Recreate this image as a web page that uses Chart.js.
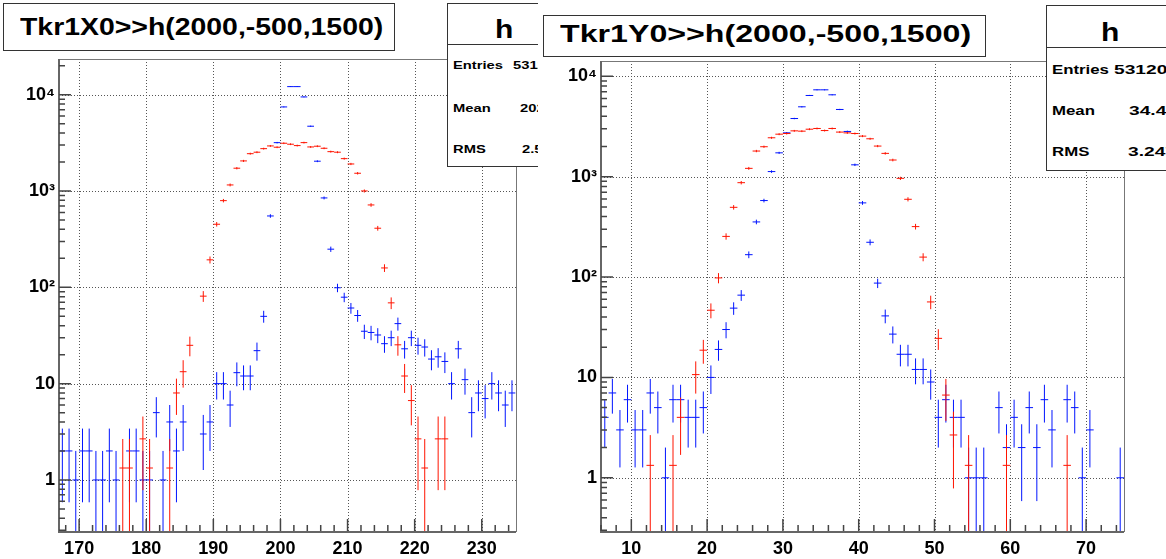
<!DOCTYPE html>
<html>
<head>
<meta charset="utf-8">
<script src="https://cdn.jsdelivr.net/npm/chart.js@4/dist/chart.umd.min.js"></script>
<style>
  html, body { margin: 0; padding: 0; background: #fff; }
  body { width: 1166px; height: 559px; position: relative; overflow: hidden; font-family: "Liberation Sans", Arial, sans-serif; }
  .pane { position: absolute; top: 0; height: 559px; overflow: hidden; background: #fff; }
  canvas { position: absolute; top: 0; }
  .box { position: absolute; box-sizing: border-box; border: 1px solid #333; background: #fff; }
  .txt { position: absolute; white-space: nowrap; font-weight: bold; color: #000; transform-origin: 0 50%; line-height: 1; }
  .sep { position: absolute; left: 0; right: 0; height: 0; border-top: 1px solid #333; }
</style>
</head>
<body>
<div class="pane" id="paneL" style="left:0;width:538px;">
  <canvas id="cL" width="540" height="559" style="left:0;width:540px;height:559px;"></canvas>
  <div class="box" style="left:3px;top:3px;width:392px;height:48px;">
    <span class="txt" id="titleL" style="left:16px;top:12px;font-size:23px;transform:scaleX(1.235);"></span>
  </div>
  <div class="box" id="statL" style="left:447px;top:3px;width:112px;height:164px;"></div>
</div>
<div class="pane" id="paneR" style="left:538px;width:628px;">
  <canvas id="cR" width="626" height="559" style="left:2px;width:626px;height:559px;"></canvas>
  <div class="box" style="left:5px;top:15px;width:443px;height:42px;">
    <span class="txt" id="titleR" style="left:16px;top:6px;font-size:24px;transform:scaleX(1.34);"></span>
  </div>
  <div class="box" id="statR" style="left:508px;top:5px;width:130px;height:166px;"></div>
</div>
<script>
// ---------------- data ----------------
const titleX0 = "Tkr1X0>>h(2000,-500,1500)";
const titleY0 = "Tkr1Y0>>h(2000,-500,1500)";
const statLabels = ["Entries", "Mean", "RMS"];
const statX0 = ["53120", "202.5", "2.558"];
const statY0 = ["53120", "34.41", "3.247"];

const yTickValues = [1, 10, 100, 1000, 10000];
const yTickLabels = ["1", "10", "10\u00B2", "10\u00B3", "10\u2074"];
const xTicksX0 = [170, 180, 190, 200, 210, 220, 230];
const xTicksY0 = [10, 20, 30, 40, 50, 60, 70];

// Tkr1X0 : blue histogram (bin centres, contents)
const x0BlueBins = [167.5,168.5,169.5,170.5,171.5,172.5,173.5,174.5,175.5,177.5,178.5,179.5,180.5,181.5,182.5,183.5,184.5,185.5,
  188.5,189.5,190.5,191.5,192.5,193.5,194.5,195.5,196.5,197.5,198.5,199.5,200.5,201.5,202.5,203.5,204.5,205.5,206.5,207.5,
  208.5,209.5,210.5,211.5,212.5,213.5,214.5,215.5,216.5,217.5,218.5,219.5,220.5,221.5,222.5,223.5,224.5,225.5,226.5,227.5,
  228.5,229.5,230.5,231.5,232.5,233.5,234.5];
const x0BlueVals = [2,2,1,2,2,1,1,2,1,2,2,1,1,5,1,4,2,4,
  3,4,10,10,6,13,12,12,22,50,551,3180,7470,12140,12140,9490,4710,2040,848,249,
  99,79,61,51,35,34,32,26,30,42,23,30,25,24,18,19,17,10,23,11,
  5,8,7,10,8,6,8];
// Tkr1X0 : red histogram (weighted, 4/3 per entry)
const x0RedBins = [176.5,177.5,179.5,180.5,183.5,184.5,185.5,186.5,188.5,189.5,190.5,191.5,192.5,193.5,194.5,195.5,196.5,
  197.5,198.5,199.5,200.5,201.5,202.5,203.5,204.5,205.5,206.5,207.5,208.5,209.5,210.5,211.5,212.5,213.5,214.5,215.5,216.5,
  217.5,218.5,219.5,220.5,221.5,223.5,224.5];
const x0RedVals = [1.33,1.33,2.67,1.33,1.33,8,13.3,25,81,193,452,795,1157,1726,2055,2443,2530,
  2755,2940,2850,3135,3063,2965,3183,2870,2920,2780,2565,2530,2170,1910,1530,1002,717,411,159,69,
  25.3,12,6.67,2.67,1.33,2.67,2.67];

// Tkr1Y0 : blue histogram
const y0BlueBins = [6.5,7.5,8.5,9.5,10.5,11.5,12.5,13.5,14.5,15.5,16.5,17.5,18.5,19.5,20.5,21.5,22.5,23.5,24.5,25.5,26.5,
  27.5,28.5,29.5,30.5,31.5,32.5,33.5,34.5,35.5,36.5,37.5,38.5,39.5,40.5,41.5,42.5,43.5,44.5,45.5,46.5,47.5,48.5,49.5,
  50.5,51.5,52.5,53.5,54.5,55.5,56.5,58.5,59.5,60.5,61.5,62.5,63.5,64.5,65.5,67.5,68.5,69.5,70.5,74.5];
const y0BlueVals = [4,7,3,6,3,3,7,5,1,6,6,4,4,5,10,19,30,49,66,167,354,
  578,1124,1727,2733,3795,4966,6440,7330,7330,6540,4670,2820,1312,548,222,87,41,27,17,17,12,12,9,
  4,6,4,4,1,1,1,5,2,4,2,5,2,6,3,6,5,1,3,1];
// Tkr1Y0 : red histogram (weighted, 4/3 per entry)
const y0RedBins = [12.5,15.5,16.5,18.5,19.5,20.5,21.5,22.5,23.5,24.5,25.5,26.5,27.5,28.5,29.5,30.5,31.5,32.5,33.5,34.5,
  35.5,36.5,37.5,38.5,39.5,40.5,41.5,42.5,43.5,44.5,45.5,46.5,47.5,48.5,49.5,50.5,51.5,52.5,54.5,59.5,67.5];
const y0RedVals = [1.33,1.33,4,10.67,18.67,46.7,98,254,495,871,1210,1800,1987,2440,2650,2690,2860,2840,2970,3020,
  2880,3020,2780,2730,2690,2535,2385,2017,1706,1465,962,595,318,158,56.5,24.5,6.67,2.67,1.33,1.33,1.33];

const blueWeight = 1;
const redWeight = 4 / 3;

// ---------------- helpers ----------------
function errorBarData(bins, vals, w) {
  const pts = [];
  bins.forEach((xc, i) => {
    const v = vals[i];
    if (!(v > 0)) return;
    const e = Math.sqrt(v * w);
    pts.push({x: xc - 0.5, y: v}, {x: xc + 0.5, y: v}, {x: xc + 0.5, y: null});
    pts.push({x: xc, y: Math.max(v - e, 1e-3)}, {x: xc, y: v + e}, {x: xc, y: null});
  });
  return pts;
}

const rootAxes = {
  id: 'rootAxes',
  beforeDatasetsDraw(chart, args, o) {
    const {ctx, chartArea: a, scales: {x, y}} = chart;
    ctx.save();
    ctx.strokeStyle = '#555';
    ctx.lineWidth = 1;
    ctx.setLineDash([1, 2]);
    ctx.beginPath();
    o.xMajor.forEach(v => {
      const px = Math.round(x.getPixelForValue(v)) + 0.5;
      ctx.moveTo(px, a.top); ctx.lineTo(px, a.bottom);
    });
    yTickValues.forEach(v => {
      const py = Math.round(y.getPixelForValue(v)) + 0.5;
      ctx.moveTo(a.left, py); ctx.lineTo(a.right, py);
    });
    ctx.stroke();
    ctx.restore();
  },
  afterDatasetsDraw(chart, args, o) {
    const {ctx, chartArea: a, scales: {x, y}} = chart;
    ctx.save();
    ctx.strokeStyle = '#777';
    ctx.lineWidth = 1;
    ctx.strokeRect(a.left + 0.5, a.top + 0.5, a.right - a.left, a.bottom - a.top);
    ctx.strokeStyle = '#666';
    ctx.lineWidth = 2;
    ctx.beginPath();
    ctx.moveTo(a.left, a.top); ctx.lineTo(a.left, a.bottom + 1); ctx.lineTo(a.right, a.bottom + 1);
    ctx.stroke();
    ctx.strokeStyle = '#444';
    ctx.lineWidth = 1.5;
    ctx.beginPath();
    for (let v = Math.ceil(x.min / 2) * 2; v <= x.max; v += 2) {
      const px = x.getPixelForValue(v);
      const len = (v % 10 === 0) ? 12 : 6;
      ctx.moveTo(px, a.bottom); ctx.lineTo(px, a.bottom - len);
    }
    for (let d = 0.1; d <= 100000; d *= 10) {
      for (let m = 1; m <= 9; m++) {
        const v = m * d;
        if (v < y.min || v > y.max) continue;
        const py = y.getPixelForValue(v);
        const len = (m === 1) ? 12 : 6;
        ctx.moveTo(a.left, py); ctx.lineTo(a.left + len, py);
      }
    }
    ctx.stroke();
    ctx.restore();
  }
};

function makeChart(id, xr, xTicks, yr, yAxisW, padR, padTop, blueBins, blueVals, redBins, redVals) {
  const font = {family: '"Liberation Sans", Arial, sans-serif', weight: 'bold', size: 18};
  return new Chart(document.getElementById(id), {
    type: 'scatter',
    data: {
      datasets: [
        {data: errorBarData(redBins, redVals, redWeight), borderColor: 'rgb(255,20,0)', borderWidth: 1,
         showLine: true, spanGaps: false, pointRadius: 0, fill: false},
        {data: errorBarData(blueBins, blueVals, blueWeight), borderColor: 'rgb(0,20,255)', borderWidth: 1,
         showLine: true, spanGaps: false, pointRadius: 0, fill: false}
      ]
    },
    options: {
      responsive: false,
      animation: false,
      events: [],
      layout: {padding: {left: 0, right: padR, top: padTop, bottom: 0}},
      plugins: {legend: {display: false}, tooltip: {enabled: false}, rootAxes: {xMajor: xTicks}},
      scales: {
        x: {
          type: 'linear', min: xr[0], max: xr[1],
          grid: {display: false, drawTicks: false},
          border: {display: false},
          afterBuildTicks: s => { s.ticks = xTicks.map(v => ({value: v})); },
          afterFit: s => { s.height = 28; },
          ticks: {font, color: '#000', padding: 7, autoSkip: false, maxRotation: 0,
                  callback: v => String(v)}
        },
        y: {
          type: 'logarithmic', min: yr[0], max: yr[1],
          grid: {display: false, drawTicks: false},
          border: {display: false},
          afterBuildTicks: s => { s.ticks = yTickValues.map(v => ({value: v})); },
          afterFit: s => { s.width = yAxisW; },
          ticks: {font, color: '#000', padding: 4, autoSkip: false,
                  callback: v => { const i = yTickValues.indexOf(v); return i >= 0 ? yTickLabels[i] : ''; }}
        }
      }
    },
    plugins: [rootAxes]
  });
}

makeChart('cL', [167, 235.1], xTicksX0, [0.295, 23500], 59, 24, 59, x0BlueBins, x0BlueVals, x0RedBins, x0RedVals);
makeChart('cR', [6, 75], xTicksY0, [0.295, 14200], 61, 42, 61, y0BlueBins, y0BlueVals, y0RedBins, y0RedVals);

// ---------------- title & stats boxes ----------------
document.getElementById('titleL').textContent = titleX0;
document.getElementById('titleR').textContent = titleY0;

function buildStats(el, vals, cfg) {
  const h = document.createElement('span');
  h.className = 'txt';
  h.textContent = 'h';
  h.style.cssText = `left:${cfg.hLeft}px;top:${cfg.hTop}px;font-size:25px;transform:scaleX(1.2);`;
  el.appendChild(h);
  const sep = document.createElement('div');
  sep.className = 'sep';
  sep.style.top = cfg.sep + 'px';
  el.appendChild(sep);
  statLabels.forEach((lab, i) => {
    const l = document.createElement('span');
    l.className = 'txt';
    l.textContent = lab;
    l.style.cssText = `left:5px;top:${cfg.rows[i]}px;font-size:${cfg.fs}px;transform:scaleX(${cfg.sx});`;
    el.appendChild(l);
    const v = document.createElement('span');
    v.className = 'txt';
    v.textContent = vals[i];
    v.style.cssText = `left:${cfg.valLeft[i]}px;top:${cfg.rows[i]}px;font-size:${cfg.fs}px;transform:scaleX(${cfg.vsx});`;
    el.appendChild(v);
  });
}
buildStats(document.getElementById('statL'), statX0, {hLeft: 47, hTop: 13, sep: 40, rows: [56, 99, 140], fs: 11, sx: 1.34, vsx: 1.34, valLeft: [65, 72, 74]});
buildStats(document.getElementById('statR'), statY0, {hLeft: 54, hTop: 14, sep: 41, rows: [58, 99, 140], fs: 12, sx: 1.4, vsx: 1.6, valLeft: [67, 82, 81]});
</script>
</body>
</html>
